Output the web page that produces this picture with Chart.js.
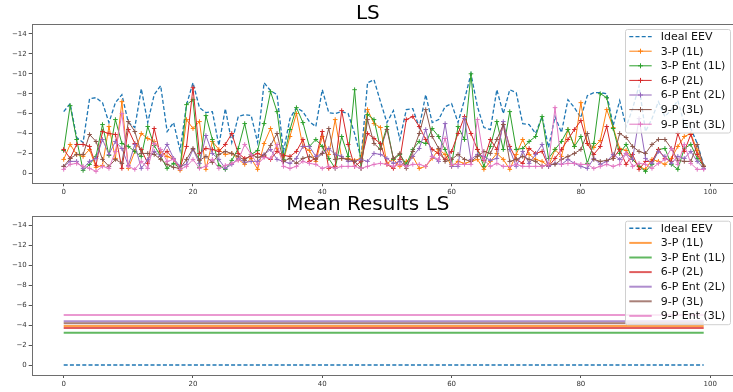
<!DOCTYPE html>
<html><head><meta charset="utf-8">
<script src="https://cdn.jsdelivr.net/npm/chart.js@4.4.0/dist/chart.umd.min.js"></script>
<style>
html,body{margin:0;padding:0;background:#fff;overflow:hidden;width:733px;height:392px;}
#c1{position:absolute;left:0;top:0;}
#c2{position:absolute;left:0;top:190px;}
</style></head><body>
<canvas id="c1" width="742" height="196"></canvas>
<canvas id="c2" width="742" height="202"></canvas>
<script>
const runs = [...Array(100).keys()];
const seriesNames = ['Ideal EEV','3-P (1L)','3-P Ent (1L)','6-P (2L)','6-P Ent (2L)','9-P (3L)','9-P Ent (3L)'];
const titles = ['LS','Mean Results LS'];
const xTicks = [0,20,40,60,80,100];
const yTicks = [-14,-12,-10,-8,-6,-4,-2,0];

const idealEEV = [-6.2,-7.0,-3.6,-3.1,-7.5,-7.6,-7.1,-5.1,-7.1,-7.9,-5.1,-4.6,-8.5,-5.1,-7.9,-8.8,-4.2,-5.1,-2.3,-6.9,
 -9.1,-6.6,-6.1,-6.2,-2.8,-6.5,-3.1,-5.7,-5.9,-5.8,-3.1,-9.1,-8.3,-7.9,-2.2,-5.5,-6.6,-6.2,-5.2,-4.7,
 -8.4,-6.1,-6.0,-6.2,-6.0,-4.0,-1.5,-9.1,-9.4,-7.2,-5.1,-6.3,-3.4,-6.4,-6.5,-4.6,-7.9,-5.1,-5.4,-6.7,
 -7.0,-5.1,-7.4,-10.0,-6.7,-4.6,-4.4,-8.4,-6.0,-8.4,-8.1,-5.0,-4.9,-4.0,-5.7,-2.6,-5.7,-4.1,-7.4,-6.6,
 -5.6,-7.8,-8.1,-8.1,-8.0,-4.8,-7.3,-4.7,-6.5,-8.8,-4.2,-5.5,-7.2,-5.7,-6.4,-7.3,-5.0,-4.5,-3.0,-0.8];
const p3 = [-1.4,-2.9,-1.9,-1.7,-2.4,-0.6,-0.8,-4.7,-1.5,-7.2,-0.5,-2.2,-4.0,-3.5,-3.2,-2.2,-1.7,-1.4,-0.3,-5.4,
 -4.5,-5.2,-0.4,-3.2,-2.4,-1.9,-2.0,-1.4,-0.9,-1.5,-0.4,-3.0,-4.5,-2.5,-1.3,-3.7,-6.0,-2.7,-2.3,-1.2,
 -3.7,-1.9,-5.4,-1.5,-1.5,-1.3,-1.5,-6.4,-5.0,-4.6,-1.0,-1.4,-0.7,-1.2,-1.7,-0.5,-0.7,-1.5,-2.4,-1.9,
 -0.7,-1.2,-1.0,-1.2,-1.4,-0.4,-1.2,-2.0,-1.4,-0.4,-1.9,-3.4,-1.9,-1.4,-1.2,-0.7,-2.4,-1.7,-4.4,-2.7,
 -7.1,-3.0,-2.6,-3.3,-6.4,-4.6,-2.5,-2.3,-1.4,-0.7,-0.4,-1.4,-1.2,-0.9,-1.5,-2.7,-3.7,-4.0,-2.3,-0.7];
const p3Ent = [-2.3,-6.8,-3.4,-0.3,-0.9,-1.7,-4.9,-1.8,-5.4,-3.0,-2.7,-2.2,-1.7,-4.7,-2.8,-1.7,-0.5,-1.0,-0.5,-6.9,
 -7.4,-0.6,-5.8,-3.4,-0.8,-0.4,-1.3,-2.5,-5.0,-1.9,-2.3,-5.0,-8.2,-6.2,-1.4,-4.4,-6.6,-5.1,-2.7,-3.4,
 -2.7,-1.5,-0.5,-3.7,-1.7,-8.4,-0.5,-5.9,-5.4,-2.5,-4.7,-1.4,-1.9,-0.9,-2.4,-3.2,-3.0,-4.5,-3.7,-2.4,
 -0.9,-4.7,-3.4,-10.0,-2.4,-0.7,-2.7,-5.2,-2.4,-6.2,-2.4,-2.5,-3.2,-3.7,-5.7,-1.5,-2.4,-3.2,-4.4,-2.7,
 -3.7,-1.0,-3.0,-8.0,-7.6,-4.5,-2.0,-2.9,-1.4,-0.7,-0.2,-0.9,-2.4,-2.5,-0.9,-0.4,-2.5,-2.9,-1.5,-0.7];
const p6 = [-2.4,-1.5,-2.9,-2.9,-2.7,-0.8,-4.2,-4.0,-3.9,-0.5,-4.4,-3.0,-2.4,-1.0,-4.5,-1.7,-2.2,-1.4,-0.5,-2.7,
 -8.6,-2.0,-2.5,-2.4,-2.2,-2.9,-4.0,-2.0,-1.5,-1.7,-2.0,-1.7,-1.4,-2.2,-1.8,-1.7,-2.2,-3.4,-1.2,-1.5,
 -4.2,-0.5,-0.7,-6.3,-2.9,-0.7,-1.2,-4.0,-3.5,-3.0,-0.9,-0.5,-1.4,-5.4,-5.7,-4.7,-3.4,-2.4,-2.0,-1.4,
 -2.2,-4.0,-5.7,-4.0,-2.4,-1.3,-3.4,-2.4,-4.9,-2.7,-1.4,-1.0,-2.5,-2.0,-2.2,-0.7,-1.5,-2.4,-3.4,-4.4,
 -5.3,-3.0,-1.9,-2.7,-4.7,-1.5,-2.4,-0.9,-1.9,-0.4,-1.2,-1.2,-2.4,-1.5,-1.2,-4.0,-2.2,-3.9,-1.9,-0.7];
const p6Ent = [-0.7,-1.2,-1.2,-0.5,-1.2,-1.5,-3.4,-1.9,-3.2,-2.5,-0.8,-2.9,-0.5,-1.4,-2.2,-1.7,-2.9,-1.5,-0.7,-0.9,
 -2.4,-1.0,-3.8,-2.0,-1.4,-0.5,-0.9,-1.5,-1.1,-1.2,-1.2,-1.9,-2.4,-1.4,-1.2,-1.0,-1.5,-2.7,-2.7,-1.7,
 -2.0,-2.5,-1.9,-1.7,-1.2,-1.2,-1.4,-1.2,-2.0,-1.9,-1.5,-1.0,-1.2,-0.7,-1.7,-2.5,-4.4,-1.7,-1.2,-5.0,
 -0.7,-0.7,-5.5,-1.4,-1.9,-1.7,-1.3,-1.5,-5.2,-2.4,-0.7,-2.2,-1.0,-1.9,-2.9,-0.7,-1.0,-0.9,-1.4,-1.0,
 -0.7,-0.5,-1.5,-0.9,-1.2,-1.9,-1.4,-2.0,-1.4,-5.5,-1.5,-1.0,-2.2,-1.7,-1.0,-1.7,-1.5,-2.2,-1.2,-0.5];
const p9 = [-0.7,-1.5,-1.9,-1.9,-3.9,-3.2,-1.4,-0.7,-1.4,-1.0,-5.2,-4.2,-2.0,-2.0,-1.9,-1.4,-0.9,-0.6,-0.5,-1.4,
 -2.5,-1.3,-1.7,-1.1,-1.9,-2.2,-2.0,-1.7,-1.3,-1.9,-1.6,-1.8,-2.8,-4.0,-1.2,-1.5,-1.0,-1.5,-1.7,-1.4,
 -2.0,-4.5,-1.4,-1.5,-1.4,-1.2,-0.5,-5.4,-3.0,-2.4,-4.4,-1.5,-2.0,-0.5,-2.2,-4.0,-6.4,-3.7,-2.5,-1.2,
 -1.4,-1.9,-1.4,-1.2,-1.7,-2.2,-2.0,-3.4,-4.9,-1.2,-1.4,-1.7,-1.4,-1.2,-0.7,-0.9,-0.9,-1.4,-1.7,-2.0,
 -2.4,-4.0,-1.4,-1.2,-1.3,-1.5,-4.0,-3.6,-2.7,-2.2,-2.0,-2.9,-3.4,-3.4,-2.5,-1.3,-1.2,-1.2,-2.9,-0.7];
const p9Ent = [-0.4,-0.9,-1.0,-0.7,-0.5,-0.2,-0.7,-0.5,-2.2,-6.0,-0.7,-0.4,-1.2,-0.5,-3.0,-2.4,-1.2,-1.4,-0.4,-0.7,
 -1.4,-0.5,-0.7,-1.4,-0.5,-0.8,-1.0,-1.3,-2.9,-1.9,-0.9,-1.6,-1.5,-2.9,-0.7,-0.5,-0.7,-1.2,-1.0,-0.9,
 -0.5,-0.7,-0.5,-0.7,-0.7,-0.7,-0.5,-0.7,-0.9,-1.0,-0.9,-0.7,-0.9,-0.7,-0.9,-0.9,-0.7,-1.7,-1.4,-3.5,
 -0.9,-0.9,-0.9,-0.9,-5.4,-1.4,-0.7,-1.0,-0.7,-0.7,-0.9,-0.7,-0.7,-0.7,-0.7,-0.9,-6.6,-0.9,-1.0,-1.0,
 -0.9,-0.9,-0.5,-0.7,-0.9,-0.7,-0.9,-2.0,-0.7,-1.0,-0.9,-0.5,-1.0,-1.4,-2.5,-0.9,-2.9,-1.0,-0.4,-0.4];
const meanValues = [0.0,-3.92,-3.25,-3.72,-4.39,-4.19,-5.03];

const colors = ['#1f77b4','#ff7f0e','#2ca02c','#d62728','#9467bd','#8c564b','#e377c2'];
const topSeries = [idealEEV,p3,p3Ent,p6,p6Ent,p9,p9Ent];

function hexA(h,a){const n=parseInt(h.slice(1),16);return `rgba(${n>>16},${(n>>8)&255},${n&255},${a})`;}
const FONT = "'DejaVu Sans', sans-serif";
const minus = v => (v<0?'\u2212':'')+Math.abs(v);

const framePlugin = {
  id:'frame',
  afterDatasetsDraw(chart){
    const {ctx,chartArea:a}=chart;
    ctx.save(); ctx.strokeStyle='#6e6e6e'; ctx.lineWidth=1; ctx.setLineDash([]);
    ctx.strokeRect(Math.round(a.left)+0.5,Math.round(a.top)+0.5,Math.round(a.right-a.left),Math.round(a.bottom-a.top));
    ctx.restore();
  }
};
function legendPlugin(markers){
  return {
    id:'mplLegend',
    afterDatasetsDraw(chart){
      const {ctx,chartArea:a}=chart;
      const bw=105, bh=103.5, bx=a.right-5.7-bw, by=a.top+5;
      ctx.save();
      ctx.beginPath();
      if(ctx.roundRect) ctx.roundRect(bx+0.5,by+0.5,bw,bh,2); else ctx.rect(bx+0.5,by+0.5,bw,bh);
      ctx.fillStyle='rgba(255,255,255,0.8)'; ctx.fill();
      ctx.strokeStyle='#d0d0d0'; ctx.lineWidth=1; ctx.stroke();
      chart.data.datasets.forEach((ds,k)=>{
        const y=by+7.6+k*14.6;
        const x0=bx+4.3, x1=bx+26.7;
        ctx.strokeStyle=ds.borderColor; ctx.lineWidth=ds.borderWidth;
        ctx.setLineDash(ds.borderDash||[]);
        ctx.beginPath(); ctx.moveTo(x0,y); ctx.lineTo(x1,y); ctx.stroke();
        ctx.setLineDash([]);
        if(markers && ds.pointRadius>0){
          const cx=(x0+x1)/2, r=2.5;
          ctx.lineWidth=1; ctx.strokeStyle=ds.pointBorderColor;
          ctx.beginPath(); ctx.moveTo(cx-r,y); ctx.lineTo(cx+r,y); ctx.moveTo(cx,y-r); ctx.lineTo(cx,y+r); ctx.stroke();
        }
        ctx.fillStyle='#111'; ctx.font='11px '+FONT; ctx.textBaseline='middle'; ctx.textAlign='left';
        ctx.fillText(ds.label,bx+35.7,y+0.5);
      });
      ctx.restore();
    }
  };
}

function makeOptions(title, titlePadTop, titlePadBottom, xAxisHeight, tickPad){
  return {
    responsive:false, animation:false, devicePixelRatio:1,
    layout:{padding:{left:0,right:6.3,top:0,bottom:0}},
    plugins:{
      legend:{display:false}, tooltip:{enabled:false},
      title:{display:true,text:title,color:'#000',font:{family:FONT,size:20,weight:'normal',lineHeight:1},padding:{top:titlePadTop,bottom:titlePadBottom}}
    },
    scales:{
      x:{type:'linear',min:-4.95,max:103.95,
        afterBuildTicks:s=>{s.ticks=xTicks.map(v=>({value:v}));},
        afterFit:s=>{s.height=xAxisHeight;},
        ticks:{color:'#333',font:{family:FONT,size:7},padding:tickPad,maxRotation:0,callback:v=>minus(v)},
        grid:{display:true,drawOnChartArea:false,drawTicks:true,tickLength:3,tickColor:'#555',tickWidth:1},
        border:{display:false}},
      y:{type:'linear',min:-15,max:1,reverse:true,
        afterBuildTicks:s=>{s.ticks=yTicks.map(v=>({value:v}));},
        afterFit:s=>{s.width=31.7;},
        ticks:{color:'#333',font:{family:FONT,size:7},padding:2,callback:v=>minus(v)},
        grid:{display:true,drawOnChartArea:false,drawTicks:true,tickLength:3,tickColor:'#555',tickWidth:1},
        border:{display:false}}
    }
  };
}

const topDatasets = seriesNames.map((name,k)=>({
  label:name,
  data:runs.map((r,i)=>({x:r,y:topSeries[k][i]})),
  borderColor:colors[k], backgroundColor:colors[k],
  borderWidth:k===0?1.3:1,
  borderDash:k===0?[4,2.2]:[],
  pointRadius:k===0?0:2.3, pointStyle:'cross', pointBorderColor:colors[k], pointBorderWidth:1,
  pointHoverRadius:0, tension:0, fill:false, order:-k
}));
new Chart(document.getElementById('c1'),{
  type:'line', data:{datasets:topDatasets},
  options:makeOptions(titles[0],4,0,12.7,1.3),
  plugins:[framePlugin,legendPlugin(true)]
});

const bottomDatasets = seriesNames.map((name,k)=>({
  label:name,
  data:runs.map(r=>({x:r,y:meanValues[k]})),
  borderColor:k===0?colors[0]:hexA(colors[k],0.75), backgroundColor:colors[k],
  borderWidth:k===0?1.4:2,
  borderDash:k===0?[4,2.2]:[],
  pointRadius:0, pointHoverRadius:0, tension:0, fill:false, order:-k
}));
new Chart(document.getElementById('c2'),{
  type:'line', data:{datasets:bottomDatasets},
  options:makeOptions(titles[1],4.7,1,17,2.3),
  plugins:[framePlugin,legendPlugin(false)]
});
</script>
</body></html>
